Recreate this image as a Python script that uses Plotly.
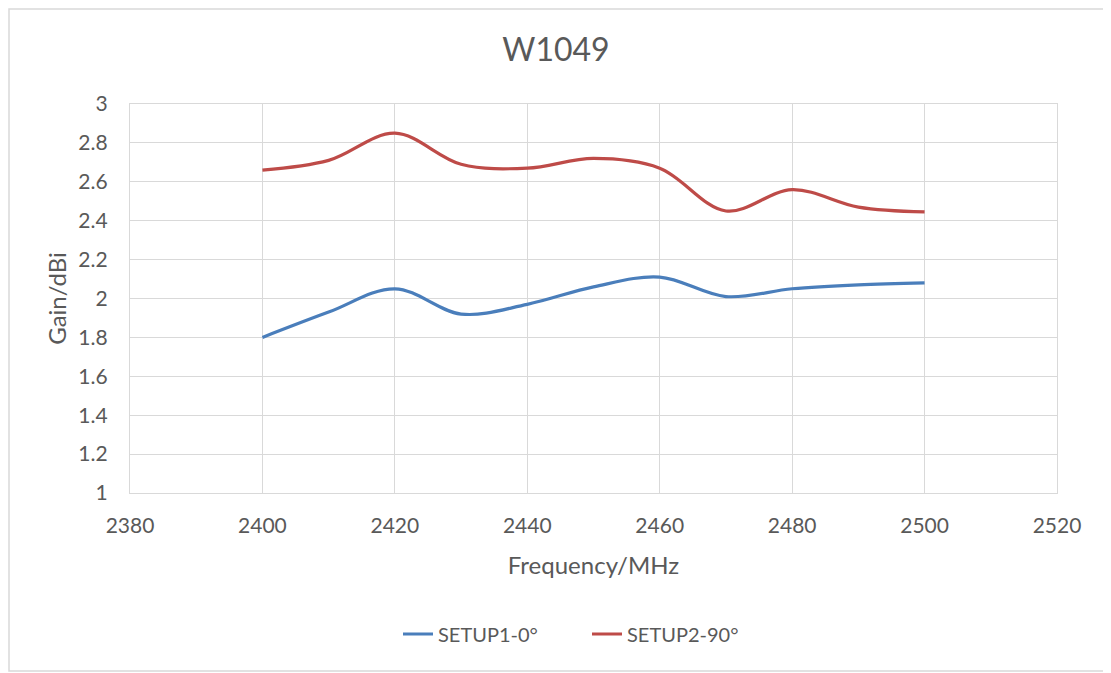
import plotly.graph_objects as go

freq = [2400, 2410, 2420, 2430, 2440, 2450, 2460, 2470, 2480, 2490, 2500]
setup1 = [1.80, 1.93, 2.05, 1.92, 1.97, 2.06, 2.11, 2.01, 2.05, 2.07, 2.08]
setup2 = [2.66, 2.71, 2.85, 2.69, 2.67, 2.72, 2.67, 2.45, 2.56, 2.47, 2.445]
names = ["SETUP1-0°", "SETUP2-90°"]
colors = ["#4A7EBB", "#BE4B48"]

FONT = "Lato"
TXT = "#595959"
GRID = "#D9D9D9"

fig = go.Figure()
for name, ys, c in zip(names, [setup1, setup2], colors):
    fig.add_trace(go.Scatter(
        x=freq, y=ys, mode="lines", name=name,
        line=dict(color=c, width=3.2, shape="spline", smoothing=1.0),
    ))

# page has an 8px body offset
OFF = 8
W, H = 1111 - OFF, 673 - OFF
L, R, T, B = 130 - OFF, 54, 104 - OFF, 180
pw = W - L - R
ph = H - T - B

def px(xp):
    return (xp - OFF - L) / pw

def py(yp):
    return (H - B - (yp - OFF)) / ph

fig.update_layout(
    width=W, height=H,
    margin=dict(l=L, r=R, t=T, b=B),
    paper_bgcolor="white", plot_bgcolor="white",
    font=dict(family=FONT, color=TXT, size=21),
    title=dict(text="W1049", xref="paper", x=px(556), xanchor="center",
               y=1 - (50 - OFF) / H, yanchor="middle",
               font=dict(family=FONT, size=32, color=TXT)),
    xaxis=dict(range=[2380, 2520], dtick=20, tick0=2380,
               showgrid=True, gridcolor=GRID, gridwidth=1.3,
               showline=True, linecolor=GRID, linewidth=1.3, mirror=True,
               ticks="", tickfont=dict(size=21, color=TXT), ticklabelstandoff=14,
               title=dict(text="Frequency/MHz", font=dict(size=24, color=TXT), standoff=20),
               zeroline=False),
    yaxis=dict(range=[1, 3], dtick=0.2, tick0=1,
               showgrid=True, gridcolor=GRID, gridwidth=1.3,
               showline=True, linecolor=GRID, linewidth=1.3, mirror=True,
               ticks="", tickfont=dict(size=21, color=TXT), ticklabelstandoff=17,
               title=dict(text="Gain/dBi", font=dict(size=24, color=TXT), standoff=4),
               zeroline=False),
    legend=dict(orientation="h", x=px(398), xanchor="left", y=py(634), yanchor="middle",
                font=dict(size=20, color=TXT), entrywidth=144, traceorder="normal"),
    shapes=[dict(type="rect", xref="paper", yref="paper",
                 x0=px(9), x1=px(1108),
                 y0=py(671), y1=py(9),
                 line=dict(color="#D9D9D9", width=1.5), fillcolor="rgba(0,0,0,0)", layer="below")],
)

fig.write_html("out.html")
